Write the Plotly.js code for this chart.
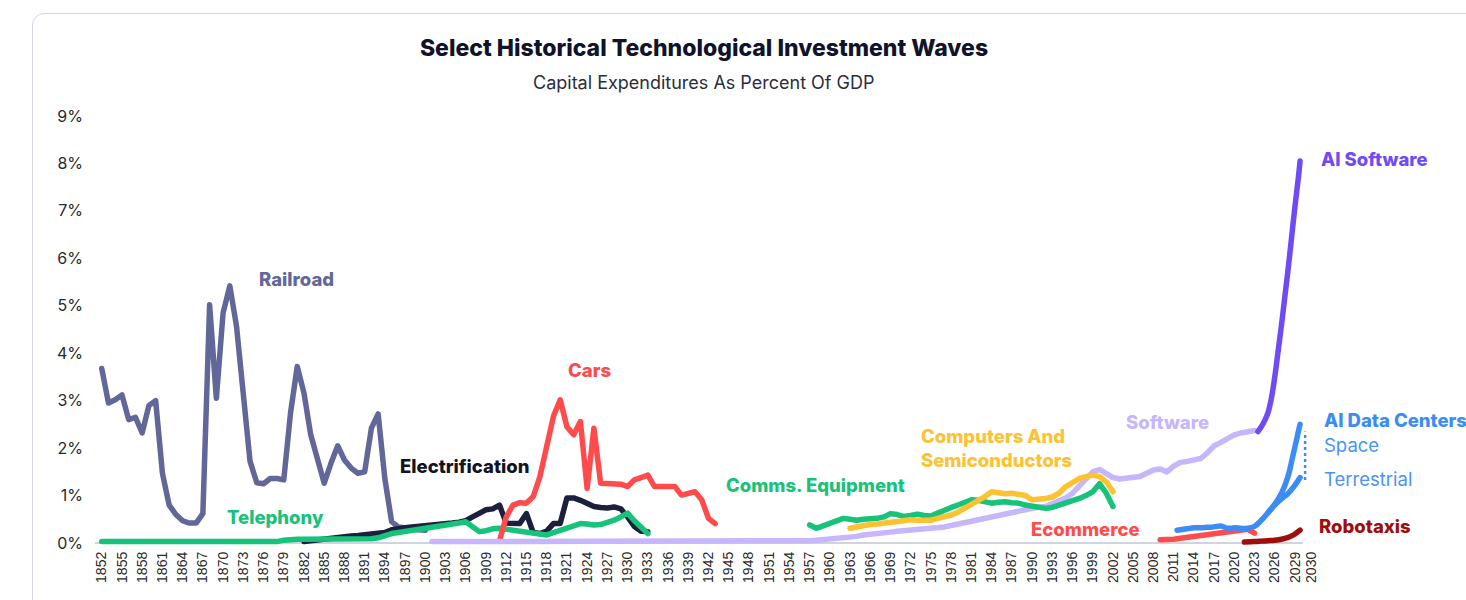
<!DOCTYPE html>
<html>
<head>
<meta charset="utf-8">
<script src="https://cdn.plot.ly/plotly-3.0.1.min.js"></script>
<style>
  html, body { margin: 0; padding: 0; background: #fff; }
  .card {
    position: absolute; left: 32px; top: 13px; width: 1500px; height: 700px;
    border: 1.5px solid #d3d7e3; border-radius: 12px; box-sizing: border-box;
  }
  #chart { position: absolute; left: 0; top: 0; width: 1466px; height: 600px; }
  path.js-line { stroke-linejoin: round; stroke-linecap: round; }
</style>
</head>
<body>
<div class="card"></div>
<div id="chart"></div>
<script>
// --- data (percent of GDP) ---
const railroadYears = [1852, 1900];
const railroad = [3.68, 2.95, 3.02, 3.12, 2.6, 2.65, 2.32, 2.9, 3.0, 1.47,
  0.8, 0.6, 0.47, 0.42, 0.42, 0.62, 5.02, 3.05, 4.85, 5.42,
  4.56, 3.16, 1.72, 1.27, 1.25, 1.36, 1.36, 1.33, 2.74, 3.72,
  3.16, 2.28, 1.72, 1.26, 1.68, 2.05, 1.75, 1.58, 1.47, 1.5,
  2.42, 2.72, 1.35, 0.45, 0.34, 0.31, 0.3, 0.28, 0.27];

const telephonyYears = [1852, 1933];
const telephony = [0.03, 0.03, 0.03, 0.03, 0.03, 0.03, 0.03, 0.03, 0.03, 0.03,
  0.03, 0.03, 0.03, 0.03, 0.03, 0.03, 0.03, 0.03, 0.03, 0.03,
  0.03, 0.03, 0.03, 0.03, 0.03, 0.03, 0.03,
  0.06, 0.08, 0.08, 0.08, 0.08, 0.08, 0.08, 0.08, 0.08, 0.09,
  0.09, 0.09, 0.09, 0.09, 0.11, 0.16, 0.2, 0.22, 0.24, 0.26,
  0.28, 0.32, 0.34, 0.35, 0.37, 0.39, 0.42, 0.45, 0.34, 0.24,
  0.26, 0.3, 0.31, 0.29, 0.27, 0.26, 0.24, 0.22, 0.18, 0.17,
  0.22, 0.27, 0.32, 0.36, 0.41, 0.4, 0.38, 0.39, 0.43, 0.48,
  0.55, 0.63, 0.47, 0.33, 0.2];

const electrificationYears = [1882, 1933];
const electrification = [0.03, 0.05, 0.07, 0.09, 0.11, 0.13, 0.14, 0.15, 0.16, 0.17, 0.18, 0.2,
  0.22, 0.28, 0.31, 0.32, 0.34, 0.35, 0.37, 0.38, 0.4, 0.41, 0.42, 0.44,
  0.47, 0.55, 0.63, 0.7, 0.72, 0.8, 0.42, 0.41, 0.41, 0.62, 0.22, 0.2,
  0.25, 0.41, 0.41, 0.95, 0.95, 0.9, 0.82, 0.77, 0.75, 0.74, 0.76, 0.72,
  0.55, 0.35, 0.25, 0.24];

const carsYears = [1911, 1943];
const cars = [0.05, 0.55, 0.8, 0.85, 0.84, 0.98, 1.4, 2.1, 2.67, 3.02,
  2.45, 2.28, 2.56, 1.15, 2.42, 1.26, 1.26, 1.26, 1.24, 1.19,
  1.33, 1.38, 1.43, 1.19, 1.19, 1.19, 1.19, 1.01, 1.05, 1.08,
  0.91, 0.52, 0.41];

const softwareYears = [1901, 2023];
const software = [0.03, 0.03, 0.03, 0.03, 0.03, 0.03, 0.03, 0.03, 0.03, 0.03,
  0.03, 0.03, 0.03, 0.03, 0.03, 0.03, 0.03, 0.03, 0.03, 0.03,
  0.03, 0.03, 0.03, 0.03, 0.03, 0.03, 0.03, 0.03, 0.03, 0.03,
  0.03, 0.03, 0.03, 0.03, 0.03, 0.03, 0.03, 0.03, 0.03, 0.03,
  0.03, 0.03, 0.03, 0.03, 0.03, 0.03, 0.03, 0.03, 0.03, 0.03,
  0.03, 0.03, 0.03, 0.03,
  0.03, 0.04, 0.05, 0.06, 0.07, 0.08, 0.09, 0.1, 0.12, 0.14,
  0.17, 0.18, 0.2, 0.21, 0.23, 0.25, 0.26, 0.27, 0.28, 0.3,
  0.32, 0.33, 0.34, 0.37, 0.4, 0.43, 0.46, 0.49, 0.52, 0.55,
  0.58, 0.6, 0.63, 0.67, 0.71, 0.74, 0.76, 0.77, 0.82, 0.88,
  0.95, 1.05, 1.19, 1.35, 1.5, 1.55, 1.48, 1.38, 1.35, 1.36,
  1.37, 1.4, 1.47, 1.54, 1.56, 1.5, 1.62, 1.7, 1.72, 1.75,
  1.78, 1.9, 2.05, 2.12, 2.2, 2.28, 2.32, 2.35, 2.37];

const commsYears = [1957, 2002];
const comms = [0.38, 0.31, 0.36, 0.42, 0.48, 0.52, 0.5, 0.48, 0.5, 0.5,
  0.52, 0.55, 0.62, 0.6, 0.56, 0.58, 0.61, 0.58, 0.57, 0.63,
  0.7, 0.75, 0.8, 0.86, 0.91, 0.9, 0.88, 0.84, 0.86, 0.87,
  0.85, 0.84, 0.8, 0.77, 0.75, 0.73, 0.75, 0.79, 0.83, 0.88,
  0.94, 1.0, 1.08, 1.25, 1.05, 0.77];

const computersYears = [1963, 2002];
const computers = [0.31, 0.34, 0.38, 0.39, 0.4, 0.42, 0.44, 0.45, 0.47, 0.49,
  0.48, 0.47, 0.48, 0.52, 0.55, 0.59, 0.65, 0.73, 0.8, 0.87,
  0.98, 1.08, 1.05, 1.04, 1.05, 1.02, 1.0, 0.91, 0.92, 0.94,
  0.97, 1.05, 1.19, 1.28, 1.36, 1.4, 1.43, 1.4, 1.29, 1.08];

const ecommerceYears = [2009, 2023];
const ecommerce = [0.07, 0.07, 0.08, 0.1, 0.12, 0.14, 0.16, 0.18, 0.2, 0.21,
  0.23, 0.25, 0.27, 0.29, 0.21];

const aiSoftwareX = [2023.5, 2024, 2024.5, 2025, 2025.5, 2026, 2026.5, 2027, 2027.5,
  2028, 2028.5, 2029, 2029.5, 2029.75];
const aiSoftware = [2.35, 2.45, 2.58, 2.75, 3.05, 3.5, 4.05, 4.6, 5.2,
  5.8, 6.45, 7.1, 7.7, 8.05];

const dcSpaceX = [2011.5, 2013, 2014, 2015, 2016, 2017, 2018, 2019, 2020, 2021, 2022,
  2023, 2024, 2025, 2026, 2027, 2028, 2028.5, 2029, 2029.5, 2029.75];
const dcSpace = [0.27, 0.3, 0.32, 0.32, 0.33, 0.34, 0.36, 0.31, 0.32, 0.31, 0.31,
  0.35, 0.48, 0.64, 0.82, 1.05, 1.42, 1.72, 2.03, 2.35, 2.5];

const dcTerrestrialX = [2025, 2026, 2027, 2028, 2029, 2029.75];
const dcTerrestrial = [0.64, 0.8, 0.93, 1.05, 1.22, 1.38];

const robotaxisX = [2021.5, 2023, 2024, 2025, 2026, 2027, 2028, 2028.5, 2029, 2029.75];
const robotaxis = [0.02, 0.03, 0.04, 0.05, 0.06, 0.08, 0.12, 0.15, 0.19, 0.27];

const tickYears = [1852, 1855, 1858, 1861, 1864, 1867, 1870, 1873, 1876, 1879,
  1882, 1885, 1888, 1891, 1894, 1897, 1900, 1903, 1906, 1909,
  1912, 1915, 1918, 1921, 1924, 1927, 1930, 1933, 1936, 1939,
  1942, 1945, 1948, 1951, 1954, 1957, 1960, 1963, 1966, 1969,
  1972, 1975, 1978, 1981, 1984, 1987, 1990, 1993, 1996, 1999,
  2002, 2005, 2008, 2011, 2014, 2017, 2020, 2023, 2026, 2029];
const lastTickLabel = '2030';
const yTicks = [0, 1, 2, 3, 4, 5, 6, 7, 8, 9];
const yTickLabels = ['0%', '1%', '2%', '3%', '4%', '5%', '6%', '7%', '8%', '9%'];

// consecutive years for a [first, last] span
const span = ([a, b]) => { const out = []; for (let y = a; y <= b; y++) out.push(y); return out; };

const W = 5.5;
const line = (x, y, color, shape) => ({
  x: x, y: y, type: 'scatter', mode: 'lines', hoverinfo: 'skip',
  line: { color: color, width: W, shape: shape || 'linear' },
});

// drawing order matters: later traces sit on top
const traces = [
  line(span(railroadYears), railroad, '#62679a'),
  line(span(electrificationYears), electrification, '#1c1f3d'),
  line(span(telephonyYears), telephony, '#17c27a'),
  line(span(carsYears), cars, '#ff4b4b'),
  line(span(softwareYears), software, '#c6b6fb'),
  line(span(commsYears), comms, '#17c27a'),
  line(span(computersYears), computers, '#fdc231'),
  line(span(ecommerceYears), ecommerce, '#ff4b4b'),
  line(dcTerrestrialX, dcTerrestrial, '#3b8cf6', 'spline'),
  line(dcSpaceX, dcSpace, '#3b8cf6', 'spline'),
  line(robotaxisX, robotaxis, '#a00d0d', 'spline'),
  line(aiSoftwareX, aiSoftware, '#6f4bf6', 'spline'),
];

const labelFont = (color, weight) => ({ family: 'Inter, sans-serif', size: 18.5, color: color, weight: weight || 800 });
const label = (text, x, y, color, xref, weight) => ({
  text: text, x: x, y: y, xref: xref || 'x', yref: 'y', xanchor: 'left', yanchor: 'middle',
  align: 'left', showarrow: false, font: labelFont(color, weight),
});

const annotations = [
  label('Railroad', 1875.0, 5.57, '#62679a'),
  label('Telephony', 1870.3, 0.55, '#17c27a'),
  label('Electrification', 1896, 1.62, '#111322'),
  label('Cars', 1920.9, 3.65, '#ff4b4b'),
  label('Comms. Equipment', 1944.3, 1.22, '#17c27a'),
  label('Computers And<br>Semiconductors', 1973.2, 2.01, '#fdc231'),
  label('Software', 2003.6, 2.55, '#c6b6fb'),
  label('Ecommerce', 1989.6, 0.3, '#ff4b4b'),
  label('AI Software', 1.0049, 8.1, '#6f4bf6', 'paper'),
  label('AI Data Centers', 1.0074, 2.59, '#3b8cf6', 'paper'),
  label('Space', 1.0074, 2.07, '#4a93f5', 'paper', 400),
  label('Terrestrial', 1.0074, 1.35, '#4a93f5', 'paper', 400),
  label('Robotaxis', 1.0033, 0.36, '#a00d0d', 'paper'),
  {
    text: 'Capital Expenditures As Percent Of GDP', xref: 'paper', yref: 'paper',
    x: 0.5, y: 1.04, xanchor: 'center', yanchor: 'middle', showarrow: false,
    font: { family: 'Inter, sans-serif', size: 18, color: '#2b2d3a' },
  },
];

const layout = {
  width: 1466, height: 600,
  margin: { l: 95, r: 153, t: 100, b: 52 },
  paper_bgcolor: 'rgba(0,0,0,0)',
  plot_bgcolor: 'rgba(0,0,0,0)',
  showlegend: false,
  hovermode: false,
  title: {
    text: 'Select Historical Technological Investment Waves',
    x: 0.5, xref: 'paper', y: 0.92, yref: 'container', yanchor: 'middle',
    font: { family: 'Inter, sans-serif', size: 23, color: '#10132a', weight: 800 },
  },
  xaxis: {
    type: 'linear', range: [1851, 2031.67],
    tickvals: tickYears.concat([2031.5]),
    ticktext: tickYears.map(String).concat([lastTickLabel]),
    tickangle: -90,
    tickfont: { family: 'Liberation Sans, Arial, sans-serif', size: 14, color: '#2a2a2a' },
    showgrid: false, zeroline: false, showline: false, ticks: '',
    automargin: false,
  },
  yaxis: {
    range: [-0.105, 9.337],
    tickvals: yTicks,
    ticktext: yTickLabels,
    tickfont: { family: 'Inter, sans-serif', size: 16, color: '#2a2a2a' },
    ticklabelstandoff: 11,
    showgrid: false, zeroline: false, showline: false, ticks: '',
    automargin: false,
  },
  shapes: [
    { type: 'line', layer: 'below', xref: 'x', yref: 'y', x0: 1851, x1: 2030.2, y0: 0, y1: 0,
      line: { color: '#d0d4df', width: 2 } },
    { type: 'line', xref: 'x', yref: 'y', x0: 2030.5, x1: 2030.5, y0: 1.33, y1: 2.35,
      line: { color: '#3b8cf6', width: 2.5, dash: 'dot' } },
  ],
  annotations: annotations,
};

Plotly.newPlot('chart', traces, layout, { displayModeBar: false, staticPlot: true });
</script>
</body>
</html>
